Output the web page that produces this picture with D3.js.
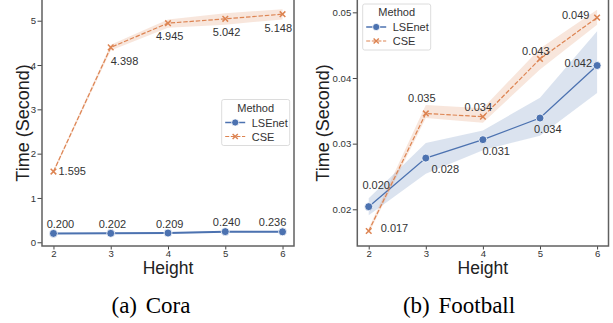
<!DOCTYPE html>
<html>
<head>
<meta charset="utf-8">
<script src="https://cdn.jsdelivr.net/npm/d3@7"></script>
<style>
	body { margin: 0; background: #fff; }
	svg { display: block; font-family: 'Liberation Sans', Arial, sans-serif; }
</style>
</head>
<body>
<div id="chart"></div>
<script>
// x values (tree height)
const heights = [2, 3, 4, 5, 6];

// (a) Cora, seconds
const coraLSEnet = [0.200, 0.202, 0.209, 0.240, 0.236];
const coraLSEnetLo = [0.185, 0.190, 0.195, 0.222, 0.222];
const coraLSEnetHi = [0.215, 0.214, 0.223, 0.258, 0.250];
const coraCSE = [1.595, 4.398, 4.945, 5.042, 5.148];
const coraCSELo = [1.56, 4.33, 4.84, 4.91, 5.03];
const coraCSEHi = [1.63, 4.46, 5.03, 5.17, 5.26];
const coraTicks = [0, 1, 2, 3, 4, 5];

// (b) Football, seconds
const footLSEnet = [0.0204, 0.0278, 0.0306, 0.0339, 0.0419];
const footLSEnetLo = [0.0191, 0.0254, 0.0290, 0.0312, 0.0377];
const footLSEnetHi = [0.0217, 0.0301, 0.0320, 0.0370, 0.0471];
const footCSE = [0.0167, 0.0346, 0.0341, 0.0429, 0.0492];
const footCSELo = [0.0163, 0.0339, 0.0332, 0.0413, 0.0481];
const footCSEHi = [0.0171, 0.0359, 0.0354, 0.0445, 0.0504];
const footTicks = [0.02, 0.03, 0.04, 0.05];

const blue = '#4c72b0';
const orange = '#dd8452';

const svg = d3.select('#chart').append('svg')
	.attr('width', 613)
	.attr('height', 323);

// label placement: [text-anchor, dx, dy] relative to the point
const coraLSEnetPos = [['middle', 7, -5.5], ['middle', 1.7, -5.5], ['middle', 1.7, -5.5], ['middle', 1.3, -5.5], ['middle', -10, -5.5]];
const coraCSEPos = [['start', 5, 3.8], ['start', 0, 17.3], ['middle', 1.7, 17], ['middle', 1.3, 17.4], ['middle', -4.3, 17.6]];
const footLSEnetPos = [['middle', 7.5, -17.7], ['start', 5.7, 15], ['start', -0.5, 14.8], ['start', -6, 14.6], ['end', -5, 1.7]];
const footCSEPos = [['start', 12, 1.2], ['middle', -4, -11.6], ['middle', -4.6, -6], ['middle', -4.2, -4.3], ['end', -7.6, 1.7]];

const drawPanel = (opt) => {
	const g = svg.append('g');
	const x = d3.scaleLinear().domain([1.8, 6.2]).range([opt.left, opt.right]);
	const y = d3.scaleLinear().domain(opt.yDomain).range([246, -1]);

	const series = [
		{ name: 'LSEnet', color: blue, v: opt.a, lo: opt.aLo, hi: opt.aHi, pos: opt.aPos },
		{ name: 'CSE', color: orange, v: opt.b, lo: opt.bLo, hi: opt.bHi, pos: opt.bPos }
	];

	const area = d3.area()
		.x((d, i) => x(heights[i]))
		.y0(d => y(d[0]))
		.y1(d => y(d[1]));
	const line = d3.line()
		.x((d, i) => x(heights[i]))
		.y(d => y(d));

	series.forEach(s => {
		g.append('path')
			.datum(d3.zip(s.lo, s.hi))
			.attr('d', area)
			.attr('fill', s.color)
			.attr('fill-opacity', 0.2);
	});

	series.forEach(s => {
		g.append('path')
			.datum(s.v)
			.attr('d', line)
			.attr('fill', 'none')
			.attr('stroke', s.color)
			.attr('stroke-width', s.name === 'CSE' ? 1.2 : opt.blueWidth)
			.attr('stroke-dasharray', s.name === 'CSE' ? '4.5,1.8' : null);
	});

	// markers
	g.selectAll('.dot')
		.data(opt.a)
		.join('circle')
		.attr('cx', (d, i) => x(heights[i]))
		.attr('cy', d => y(d))
		.attr('r', 4)
		.attr('fill', blue)
		.attr('stroke', '#fff')
		.attr('stroke-width', 0.8);

	g.selectAll('.cross')
		.data(opt.b)
		.join('path')
		.attr('transform', (d, i) => `translate(${x(heights[i])},${y(d)})`)
		.attr('d', 'M-2.8,-2.8L2.8,2.8M-2.8,2.8L2.8,-2.8')
		.attr('stroke', orange)
		.attr('stroke-width', 1.5)
		.attr('fill', 'none');

	// value labels
	series.forEach(s => {
		g.selectAll(null)
			.data(s.v)
			.join('text')
			.attr('x', (d, i) => x(heights[i]) + s.pos[i][1])
			.attr('y', (d, i) => y(d) + s.pos[i][2])
			.attr('text-anchor', (d, i) => s.pos[i][0])
			.attr('font-size', 11)
			.attr('fill', '#333')
			.text(d => d3.format('.3f')(d));
	});

	// axes
	const xAxis = g.append('g')
		.attr('transform', 'translate(0,246)')
		.call(d3.axisBottom(x).tickValues(heights).tickSize(3.5).tickPadding(0.8).tickFormat(d3.format('d')));
	const yAxis = g.append('g')
		.attr('transform', `translate(${opt.left},0)`)
		.call(d3.axisLeft(y).tickValues(opt.ticks).tickSize(4.5).tickPadding(1.5).tickFormat(opt.fmt));
	[xAxis, yAxis].forEach(ax => {
		ax.select('.domain').remove();
		ax.selectAll('line').attr('stroke', '#444');
		ax.selectAll('text').attr('fill', '#333').attr('font-size', 9.6).attr('font-family', null);
	});

	// frame
	g.append('rect')
		.attr('x', opt.left)
		.attr('y', -1)
		.attr('width', opt.right - opt.left)
		.attr('height', 247)
		.attr('fill', 'none')
		.attr('stroke', '#606060')
		.attr('stroke-width', 1.5);

	g.append('text')
		.attr('x', (opt.left + opt.right) / 2)
		.attr('y', 273.6)
		.attr('text-anchor', 'middle')
		.attr('font-size', 17.5)
		.attr('fill', '#222')
		.text('Height');

	g.append('text')
		.attr('transform', `translate(${opt.yLabelX},123) rotate(-90)`)
		.attr('text-anchor', 'middle')
		.attr('font-size', 18)
		.attr('fill', '#222')
		.text('Time (Second)');

	// legend
	const lg = g.append('g').attr('transform', `translate(${opt.legend[0]},${opt.legend[1]})`);
	lg.append('rect')
		.attr('width', 68)
		.attr('height', 46)
		.attr('rx', 2)
		.attr('fill', '#fff')
		.attr('fill-opacity', 0.85)
		.attr('stroke', '#d3d3d3')
		.attr('stroke-width', 0.8);
	lg.append('text')
		.attr('x', 34)
		.attr('y', 12)
		.attr('text-anchor', 'middle')
		.attr('font-size', 11)
		.attr('fill', '#333')
		.text('Method');
	series.forEach((s, i) => {
		const cy = 23 + i * 14;
		lg.append('line')
			.attr('x1', 3.5).attr('x2', 23.5)
			.attr('y1', cy).attr('y2', cy)
			.attr('stroke', s.color)
			.attr('stroke-width', s.name === 'CSE' ? 1.2 : 1.5)
			.attr('stroke-dasharray', s.name === 'CSE' ? '4,1.6' : null);
		if (s.name === 'CSE') {
			lg.append('path')
				.attr('transform', `translate(13.5,${cy})`)
				.attr('d', 'M-2.6,-2.6L2.6,2.6M-2.6,2.6L2.6,-2.6')
				.attr('stroke', s.color)
				.attr('stroke-width', 1.4);
		} else {
			lg.append('circle')
				.attr('cx', 13.5).attr('cy', cy).attr('r', 3.6)
				.attr('fill', s.color)
				.attr('stroke', '#fff')
				.attr('stroke-width', 0.8);
		}
		lg.append('text')
			.attr('x', 30)
			.attr('y', cy + 4)
			.attr('font-size', 11)
			.attr('fill', '#333')
			.text(s.name);
	});

	// caption
	g.append('text')
		.attr('x', opt.captionX)
		.attr('y', 313.3)
		.attr('text-anchor', 'middle')
		.attr('font-family', "'Liberation Serif', 'Times New Roman', serif")
		.attr('font-size', 23)
		.attr('word-spacing', 3)
		.attr('fill', '#000')
		.text(opt.caption);
};

drawPanel({
	left: 42, right: 294,
	yDomain: [-0.084, 5.49],
	ticks: coraTicks, fmt: d3.format('d'),
	a: coraLSEnet, aLo: coraLSEnetLo, aHi: coraLSEnetHi, aPos: coraLSEnetPos,
	b: coraCSE, bLo: coraCSELo, bHi: coraCSEHi, bPos: coraCSEPos,
	blueWidth: 2,
	yLabelX: 28.5,
	legend: [221.7, 99.5],
	caption: '(a) Cora', captionX: 151
});

drawPanel({
	left: 357.3, right: 608.5,
	yDomain: [0.01441, 0.05203],
	ticks: footTicks, fmt: d3.format('.2f'),
	a: footLSEnet, aLo: footLSEnetLo, aHi: footLSEnetHi, aPos: footLSEnetPos,
	b: footCSE, bLo: footCSELo, bHi: footCSEHi, bPos: footCSEPos,
	blueWidth: 1.3,
	yLabelX: 329,
	legend: [362.7, 4],
	caption: '(b) Football', captionX: 459
});
</script>
</body>
</html>
